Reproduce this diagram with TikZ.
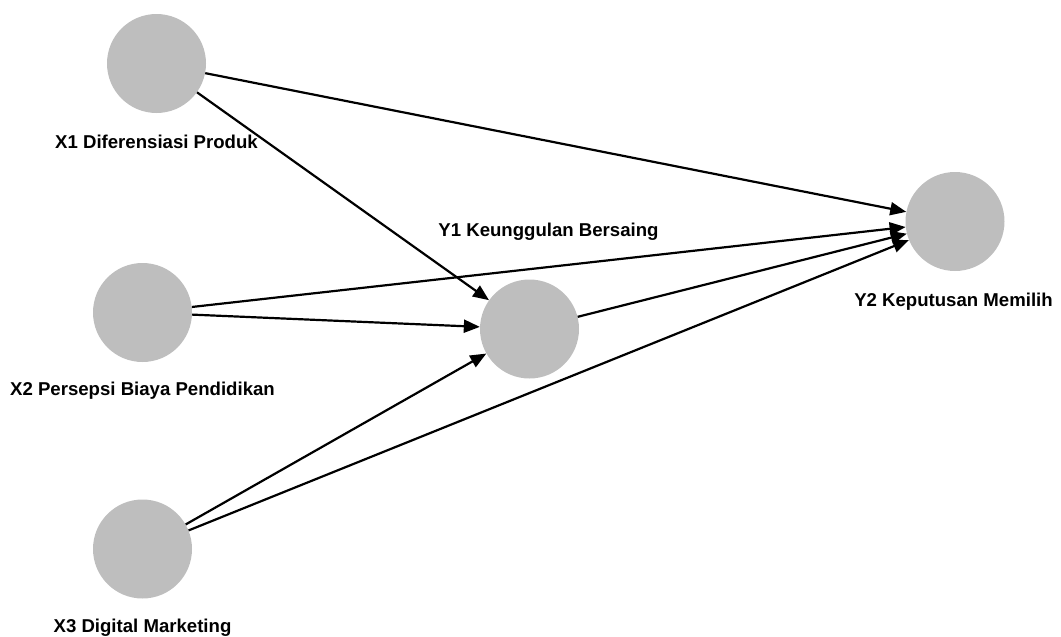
\documentclass[tikz,border=0pt]{standalone}
\usepackage{fontspec}
\setmainfont{Liberation Sans}
\usepackage{xcolor}
\usepackage{tikz}
\usetikzlibrary{arrows.meta, positioning}
\definecolor{latgray}{RGB}{190,190,190}

\begin{document}
\begin{tikzpicture}[x=1pt, y=-1pt,
    latent/.style={circle, fill=latgray, minimum size=99pt, inner sep=0pt},
    lbl/.style={font=\bfseries\fontsize{18.6}{22}\selectfont, inner sep=0pt},
    link/.style={line width=2.2pt, -{Triangle[length=16pt, width=13pt]}}]
    \useasboundingbox (0,0) rectangle (1061,637);

    \node[latent] (x1) at (156.5,63.5) {};
    \node[latent] (x2) at (142.5,312.5) {};
    \node[latent] (x3) at (142.5,549) {};
    \node[latent] (y1) at (529.5,329) {};
    \node[latent] (y2) at (955,221.5) {};

    \node[lbl, below=35pt of x1, anchor=base] (x1lbl) {X1 Diferensiasi Produk};
    \node[lbl, below=33pt of x2, anchor=base] (x2lbl) {X2 Persepsi Biaya Pendidikan};
    \node[lbl, below=34pt of x3, anchor=base] (x3lbl) {X3 Digital Marketing};
    \node[lbl, above=43pt of y1, anchor=base, xshift=19pt] (y1lbl) {Y1 Keunggulan Bersaing};
    \node[lbl, below=35pt of y2, anchor=base, xshift=-1.5pt] (y2lbl) {Y2 Keputusan Memilih};

    \draw[link] (x1) -- (y2);
    \draw[link] (x1) -- (y1);
    \draw[link] (x2) -- (y2);
    \draw[link] (x2) -- (y1);
    \draw[link] (x3) -- (y1);
    \draw[link] (x3) -- (y2);
    \draw[link] (y1) -- (y2);
\end{tikzpicture}
\end{document}
